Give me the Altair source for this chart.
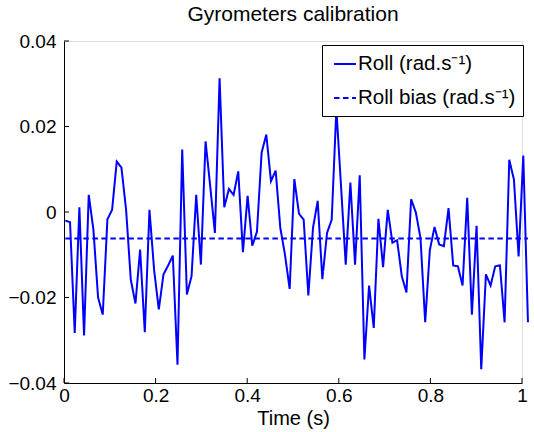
import altair as alt
import pandas as pd
import numpy as np

# Roll rate samples (rad/s)
roll = [-0.0020, -0.0024, -0.0283, 0.0011, -0.0289, 0.0040, -0.0041, -0.0200, -0.0240, -0.0017,
        0.0005, 0.0118, 0.0104, 0.0005, -0.0158, -0.0214, -0.0088, -0.0281, 0.0005, -0.0136,
        -0.0228, -0.0146, -0.0125, -0.0102, -0.0357, 0.0146, -0.0193, -0.0150, 0.0040, -0.0123,
        0.0165, 0.0060, -0.0049, 0.0313, 0.0011, 0.0054, 0.0040, 0.0095, -0.0094, 0.0038,
        -0.0079, -0.0046, 0.0139, 0.0181, 0.0072, 0.0097, -0.0037, -0.0100, -0.0180, 0.0077,
        -0.0004, -0.0018, -0.0195, -0.0037, 0.0026, -0.0157, -0.0049, -0.0018, 0.0241, 0.0060,
        -0.0123, 0.0069, -0.0123, 0.0086, -0.0345, -0.0172, -0.0271, -0.0016, -0.0129, 0.0005,
        -0.0072, -0.0066, -0.0150, -0.0188, 0.0030, -0.0001, -0.0061, -0.0258, -0.0089, -0.0035,
        -0.0076, -0.0080, 0.0009, -0.0125, -0.0127, -0.0172, 0.0033, -0.0240, -0.0032, -0.0368,
        -0.0146, -0.0172, -0.0127, -0.0125, -0.0258, 0.0122, 0.0076, -0.0104, 0.0132, -0.0258]
# sampling times (s)
time = list(np.round(np.linspace(0.003, 1.013, len(roll)), 4))
bias = -0.0062

series_names = ["Roll (rad.s⁻¹)", "Roll bias (rad.s⁻¹)"]
x_ticks = [0, 0.2, 0.4, 0.6, 0.8, 1.0]
y_ticks = [-0.04, -0.02, 0, 0.02, 0.04]

W, H = 458, 342
FONT = "Liberation Sans"

df_roll = pd.DataFrame({"time": time, "value": roll, "series": series_names[0]})
df_bias = pd.DataFrame({"time": [time[0], time[-1]], "value": [bias, bias], "series": series_names[1]})
df = pd.concat([df_roll, df_bias], ignore_index=True)

x_scale = alt.Scale(domain=[0, 1], nice=False, zero=False)
y_scale = alt.Scale(domain=[-0.04, 0.04], nice=False, zero=False)

x_axis = alt.Axis(values=x_ticks, labelExpr="format(datum.value, '.1~f')",
                  ticks=False, tickSize=0, grid=False, domainColor="black", domainWidth=1,
                  labelFontSize=19, labelFont=FONT, labelColor="black",
                  labelPadding=3, labelFlush=False, labelOverlap=False,
                  title="Time (s)", titleFont=FONT, titleFontSize=20,
                  titleFontWeight="normal", titleColor="black", titlePadding=3)
y_axis = alt.Axis(values=y_ticks,
                  labelExpr="datum.value === 0 ? '0' : format(datum.value, '.2f')",
                  ticks=False, tickSize=0, grid=False, domainColor="black", domainWidth=1,
                  labelFontSize=19, labelFont=FONT, labelColor="black",
                  labelPadding=8, labelOverlap=False, title=None)

legend = alt.Legend(title=None, orient="none", legendX=258, legendY=4,
                    strokeColor="black", fillColor="white", padding=7, rowPadding=11,
                    symbolType="stroke", symbolSize=484, symbolStrokeWidth=2, symbolOffset=4,
                    labelFontSize=20.5, labelFont=FONT, labelColor="black", labelOffset=1,
                    cornerRadius=0)

lines = alt.Chart(df).mark_line(strokeWidth=2, clip=False).encode(
    x=alt.X("time:Q", scale=x_scale, axis=x_axis),
    y=alt.Y("value:Q", scale=y_scale, axis=y_axis),
    color=alt.Color("series:N", scale=alt.Scale(domain=series_names, range=["#0000ff", "#0000ff"]),
                    legend=legend),
    strokeDash=alt.StrokeDash("series:N", scale=alt.Scale(domain=series_names, range=[[1, 0], [5.5, 3.5]]),
                              legend=legend),
    order=alt.Order("time:Q"),
)

yticks = alt.Chart(pd.DataFrame({"yt": y_ticks})).mark_rule(color="black", strokeWidth=1).encode(
    y=alt.Y("yt:Q", scale=y_scale, axis=y_axis),
    x=alt.value(0), x2=alt.value(5),
)
xticks = alt.Chart(pd.DataFrame({"xt": x_ticks})).mark_rule(color="black", strokeWidth=1).encode(
    x=alt.X("xt:Q", scale=x_scale, axis=x_axis),
    y=alt.value(H), y2=alt.value(H - 5),
)

chart = alt.layer(lines, yticks, xticks).properties(
    width=W, height=H,
    title=alt.TitleParams("Gyrometers calibration", fontSize=21, font=FONT, fontWeight="normal",
                          anchor="middle", baseline="alphabetic", offset=15, dy=25, frame="group",
                          color="black"),
    autosize=alt.AutoSizeParams(type="none"),
    padding={"left": 64, "top": 41, "right": 12, "bottom": 49},
).configure_view(stroke=None).configure(background="white")

chart.save("out.html", embed_options={"renderer": "svg", "actions": False})
